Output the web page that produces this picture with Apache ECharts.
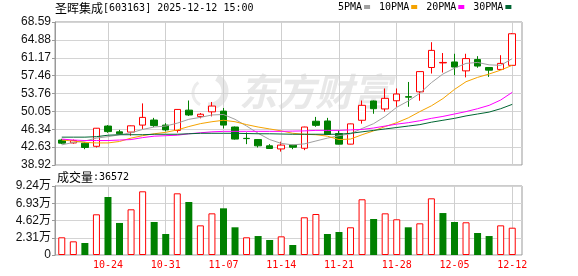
<!DOCTYPE html>
<html><head><meta charset="utf-8">
<script src="https://cdn.jsdelivr.net/npm/echarts@6/dist/echarts.min.js"></script>
<style>html,body{margin:0;padding:0;background:#fff}#c{width:578px;height:276px}</style>
</head><body><div id="c"></div>
<script>
const stockName = '圣晖集成';
const stockInfo = '[603163] 2025-12-12 15:00';
const volumeTitle = '成交量';
const dates = ['10-20','10-21','10-22','10-23','10-24','10-27','10-28','10-29','10-30','10-31',
  '11-03','11-04','11-05','11-06','11-07','11-10','11-11','11-12','11-13','11-14',
  '11-17','11-18','11-19','11-20','11-21','11-24','11-25','11-26','11-27','11-28',
  '12-01','12-02','12-03','12-04','12-05','12-08','12-09','12-10','12-11','12-12'];
const labelDates = ['10-24','10-31','11-07','11-14','11-21','11-28','12-05','12-12'];
const opens  = [44.10,43.50,43.45,42.80,47.00,45.80,45.75,47.20,48.25,47.20,46.10,50.30,49.00,49.95,50.10,46.80,44.45,44.20,42.90,42.25,43.05,42.40,48.00,48.05,45.45,43.25,48.20,52.20,50.55,52.25,53.10,54.10,59.15,60.10,60.30,58.45,60.80,59.15,58.75,59.60];
const closes = [43.45,44.00,42.55,46.55,45.85,45.40,47.05,48.80,47.10,46.20,50.45,49.30,49.45,51.15,47.20,44.30,44.40,42.90,42.35,43.05,42.60,46.80,47.15,45.25,43.25,47.45,51.30,50.60,52.75,53.65,53.00,58.30,62.70,60.20,59.25,61.00,59.45,58.60,60.00,66.15];
const lows   = [43.25,43.35,42.20,42.55,45.60,45.15,45.00,46.40,46.80,45.90,45.65,49.10,48.60,49.00,46.50,44.20,43.25,42.55,42.25,41.70,42.20,42.00,46.85,45.20,43.20,43.20,47.50,49.55,50.00,51.00,51.00,52.25,57.90,58.10,57.55,57.10,59.10,57.20,58.70,59.50];
const highs  = [44.35,44.20,43.70,46.60,47.20,46.20,47.10,51.70,48.70,47.60,50.50,52.30,49.70,52.00,50.75,46.90,45.65,44.30,43.25,43.75,43.10,46.85,48.90,48.70,46.10,47.50,52.30,52.30,54.80,54.80,56.15,58.35,64.40,62.15,62.00,62.00,61.50,59.20,61.70,66.30];
const volumes = [23700,18300,16100,54500,77700,42900,61200,85300,44200,28100,82600,71000,39700,55800,62500,37100,23700,25400,20100,25000,13400,50500,54900,28100,30800,37100,74600,48200,55800,47800,37100,42400,75900,56200,44200,43800,29500,25400,39700,36572];
const volumeUp = [1,1,0,1,0,0,1,1,0,0,1,0,1,1,0,0,1,0,0,1,0,1,1,0,0,1,1,0,1,1,0,1,1,0,0,1,0,0,1,1];
const ma5  = [43.1,43.6,43.9,44.5,44.8,45.2,45.6,46.3,46.8,47.0,47.6,48.4,48.8,49.3,49.4,48.4,47.0,45.5,44.2,43.4,43.1,43.3,43.9,44.5,45.0,45.4,46.5,47.5,49.0,50.9,52.2,53.8,56.0,57.8,59.0,60.0,60.2,59.7,59.6,61.0];
const ma10 = [44.1,43.9,43.6,43.5,43.5,43.8,44.5,45.0,45.4,45.7,46.2,46.9,47.5,47.9,48.2,47.9,47.3,46.8,46.4,46.0,45.5,45.3,45.2,44.9,44.2,44.3,45.2,46.0,46.9,47.7,48.7,50.0,51.2,52.7,54.6,56.2,57.1,57.8,58.6,59.6];
const ma20 = [44.3,44.1,44.0,44.0,44.0,44.1,44.2,44.6,44.9,45.0,45.1,45.4,45.6,45.8,45.9,45.9,45.9,45.9,45.9,45.9,45.95,46.0,46.1,46.1,46.1,46.2,46.3,46.6,47.0,47.4,47.7,48.1,48.6,49.0,49.5,50.0,50.6,51.3,52.4,54.0];
const ma30 = [44.7,44.7,44.7,44.8,45.1,45.2,45.2,45.2,45.3,45.3,45.3,45.4,45.5,45.5,45.5,45.5,45.45,45.4,45.4,45.35,45.3,45.3,45.3,45.3,45.3,45.5,45.8,46.1,46.4,46.7,47.0,47.3,47.8,48.2,48.6,49.1,49.5,49.9,50.6,51.5];
const maNames = ['5PMA','10PMA','20PMA','30PMA'];
const priceTicks = ['38.92','42.63','46.34','50.05','53.76','57.46','61.17','64.88','68.59'];
const volumeTicks = ['0','2.31万','4.62万','6.93万','9.24万'];
const volumeMax = 92400;

const maColors = ['#a0a0a0','#f5a300','#ff00ff','#006633'];
const UP = '#ff0000', DOWN = '#008000';
const MONO = "'DejaVu Sans Mono', monospace";
const SANS = "'Liberation Sans', Arial, sans-serif";
const CJK = "'Noto Sans CJK SC', sans-serif";

const pMin = parseFloat(priceTicks[0]), pMax = parseFloat(priceTicks[priceTicks.length-1]);
const pInt = (pMax - pMin) / (priceTicks.length - 1);
const vInt = volumeMax / (volumeTicks.length - 1);

const chart = echarts.init(document.getElementById('c'), null, {renderer: 'canvas'});
const isLabelDate = (i, v) => labelDates.indexOf(v) >= 0;

// weekly guide lines: a value axis of category index whose ticks land on the labelled dates
const firstLabelIdx = dates.indexOf(labelDates[0]);
const lastLabelIdx = dates.indexOf(labelDates[labelDates.length - 1]);
const weekStep = dates.indexOf(labelDates[1]) - firstLabelIdx;
const BAND = 462 / dates.length;
const weekSplit = {show: true, showMinLine: true, showMaxLine: true, lineStyle: {color: '#cfcfcf', type: 'solid', width: 1}};

const frameGrid = (top, h) => ({left: 55, right: 56, top: top, height: h, show: true, borderColor: '#999', borderWidth: 1, backgroundColor: 'transparent', outerBoundsMode: 'none', containLabel: false});
const dataGrid = (top, h) => ({left: 56, right: 60, top: top, height: h, show: false, outerBoundsMode: 'none', containLabel: false});
const guideGrid = (top, h) => ({left: 56 + BAND * (firstLabelIdx + 0.5), right: 60 + BAND * (dates.length - lastLabelIdx - 0.5), top: top, height: h, show: false, outerBoundsMode: 'none', containLabel: false});
const guideAxis = (g) => ({gridIndex: g, type: 'value', min: firstLabelIdx, max: lastLabelIdx, interval: weekStep, show: true,
  axisLine: {show: false}, axisTick: {show: false}, axisLabel: {show: false}, splitLine: weekSplit});

const option = {
  animation: false,
  backgroundColor: '#fff',
  grid: [guideGrid(22, 143), guideGrid(186, 69), frameGrid(22, 143), dataGrid(22, 143), frameGrid(186, 69), dataGrid(186, 69)],
  legend: {
    left: 338, top: 2, itemWidth: 6, itemHeight: 4, itemGap: 9, align: 'right', icon: 'rect',
    padding: 0, textStyle: {fontFamily: MONO, fontSize: 10, color: '#000', padding: [0, -3, 0, 0]},
    data: maNames, selectedMode: false
  },
  xAxis: [
    guideAxis(0),
    guideAxis(1),
    {gridIndex: 2, type: 'value', show: false, min: 0, max: 1},
    {gridIndex: 3, type: 'category', data: dates, boundaryGap: true, axisLine: {show: false}, axisTick: {show: false}, axisLabel: {show: false}, splitLine: {show: false}},
    {gridIndex: 4, type: 'value', show: false, min: 0, max: 1},
    {gridIndex: 5, type: 'category', data: dates, boundaryGap: true, axisLine: {show: false}, axisTick: {show: false},
      axisLabel: {show: true, interval: isLabelDate, color: UP, fontFamily: MONO, fontSize: 10, margin: 5}, splitLine: {show: false}}
  ],
  yAxis: [
    {gridIndex: 0, type: 'value', min: 0, max: 1, show: false, splitLine: {show: false}},
    {gridIndex: 1, type: 'value', min: 0, max: 1, show: false, splitLine: {show: false}},
    {gridIndex: 2, type: 'value', min: pMin, max: pMax, interval: pInt,
      axisLine: {show: true, lineStyle: {color: '#999'}}, axisTick: {show: true, length: 3, lineStyle: {color: '#999'}},
      axisLabel: {color: '#111', fontFamily: SANS, fontSize: 12, margin: 4,
        formatter: v => priceTicks[Math.round((v - pMin) / pInt)]},
      splitLine: {show: true, lineStyle: {color: '#d4d4d4', width: 1}}},
    {gridIndex: 3, type: 'value', min: pMin, max: pMax, show: false, splitLine: {show: false}},
    {gridIndex: 4, type: 'value', min: 0, max: volumeMax, interval: vInt,
      axisLine: {show: true, lineStyle: {color: '#999'}}, axisTick: {show: true, length: 3, lineStyle: {color: '#999'}},
      axisLabel: {color: '#111', fontFamily: SANS + ", " + CJK, fontSize: 12, margin: 4,
        formatter: v => volumeTicks[Math.round(v / vInt)]},
      splitLine: {show: true, lineStyle: {color: '#d4d4d4', width: 1}}},
    {gridIndex: 5, type: 'value', min: 0, max: volumeMax, show: false, splitLine: {show: false}}
  ],
  graphic: [
    {type: 'arc', z: -10, silent: true, shape: {cx: 210, cy: 91, r: 15, startAngle: -Math.PI * 0.35, endAngle: Math.PI * 0.55},
      style: {stroke: '#e8e8e8', lineWidth: 7, fill: null}},
    {type: 'arc', z: -10, silent: true, shape: {cx: 206, cy: 93, r: 13, startAngle: Math.PI * 0.65, endAngle: Math.PI * 1.3},
      style: {stroke: '#ececec', lineWidth: 3, fill: null}},
    {type: 'text', x: 239, y: 92, z: -10, silent: true,
      style: {text: '东方财富', fontFamily: CJK, fontSize: 38, fontWeight: 'bold', fontStyle: 'italic', fill: '#e8e8e8', verticalAlign: 'middle'}},
    {type: 'text', x: 55, y: 8,
      style: {text: '{a|' + stockName + '}{b|' + stockInfo + '}', verticalAlign: 'middle', fill: '#000',
        rich: {a: {fontFamily: CJK, fontSize: 12, fill: '#000'}, b: {fontFamily: MONO, fontSize: 10, fill: '#000'}}}},
    {type: 'text', x: 57, y: 177,
      style: {text: '{a|' + volumeTitle + '}{b|:' + volumes[volumes.length-1] + '}', verticalAlign: 'middle', fill: '#000',
        rich: {a: {fontFamily: CJK, fontSize: 12, fill: '#000'}, b: {fontFamily: MONO, fontSize: 10, fill: '#000'}}}}
  ],
  series: [
    {type: 'candlestick', xAxisIndex: 3, yAxisIndex: 3, barWidth: 7, z: 2,
      data: dates.map((d, i) => [opens[i], closes[i], lows[i], highs[i]]),
      itemStyle: {color: '#ffffff', color0: DOWN, borderColor: UP, borderColor0: DOWN, borderWidth: 1}},
    ...maNames.map((n, k) => ({
      type: 'line', name: n, xAxisIndex: 3, yAxisIndex: 3, data: [ma5, ma10, ma20, ma30][k],
      symbol: 'none', showSymbol: false, color: maColors[k], lineStyle: {width: 1, color: maColors[k]}, z: 3
    })),
    {type: 'bar', xAxisIndex: 5, yAxisIndex: 5, barWidth: 7, z: 2,
      data: volumes.map((v, i) => ({value: v, itemStyle: volumeUp[i]
        ? {color: '#ffffff', borderColor: UP, borderWidth: 1}
        : {color: DOWN, borderColor: DOWN, borderWidth: 0}}))}
  ]
};
chart.setOption(option);
</script></body></html>
